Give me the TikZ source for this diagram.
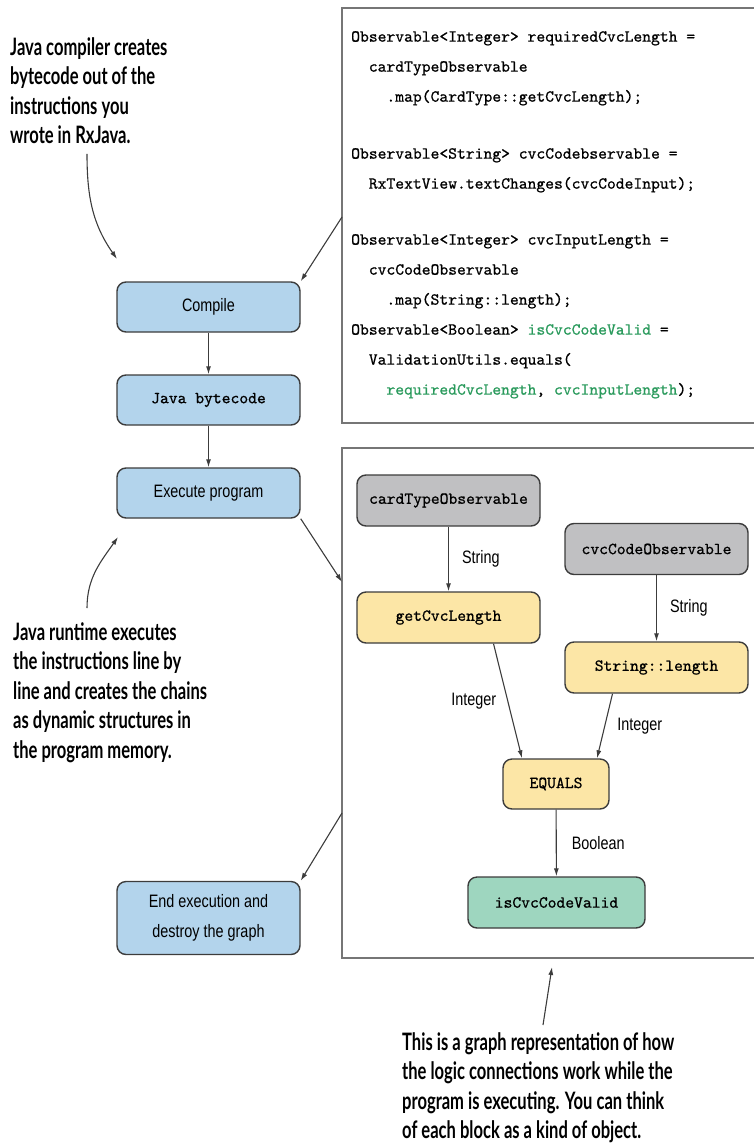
\documentclass[tikz,border=0pt]{standalone}
\usepackage{fontspec}
\setmainfont{Liberation Sans}
\newfontfamily\notefont{Lato}[FakeStretch=0.69]
\newfontfamily\labelfont{Liberation Sans}[FakeStretch=0.8]
\newfontfamily\codefont{lmmono10-regular.otf}[FakeBold=0.8]
\usetikzlibrary{arrows.meta, positioning}

\definecolor{boxblue}{HTML}{B3D4EC}
\definecolor{boxgray}{HTML}{C0C0C2}
\definecolor{boxyellow}{HTML}{FCE6A6}
\definecolor{boxgreen}{HTML}{9ED6BF}
\definecolor{codegreen}{HTML}{2A9A5C}
\definecolor{edgegray}{HTML}{3C3C3C}
\definecolor{framegray}{HTML}{767676}

\tikzset{
  stage/.style={draw=edgegray, line width=1.4pt, rounded corners=9pt, fill=boxblue,
    minimum width=183pt, minimum height=50pt, align=center,
    font=\labelfont\fontsize{18}{30}\selectfont},
  block/.style={draw=edgegray, line width=1.4pt, rounded corners=9pt,
    minimum width=183pt, minimum height=51pt,
    font=\codefont\fontsize{16.8}{20}\selectfont},
  flow/.style={draw=edgegray, line width=1.1pt, -{Latex[length=8pt,width=5pt]}},
  note/.style={anchor=north west, inner sep=0pt, align=left,
    font=\notefont\bfseries\fontsize{24}{29.5}\selectfont},
  tag/.style={inner sep=2pt, font=\labelfont\fontsize{18}{22}\selectfont},
  frame/.style={draw=framegray, line width=1.8pt}
}

\begin{document}
\begin{tikzpicture}[x=1pt, y=-1pt]
  \useasboundingbox (0,0) rectangle (754,1148);
  \clip (0,0) rectangle (754,1148);

  % frames for the source and the runtime graph
  \draw[frame] (770,8) -| (342,423) -- (770,423);
  \draw[frame] (770,448) -| (342,958) -- (770,958);
  \coordinate (codeedge) at (342,217);
  \coordinate (graphin) at (342,582);
  \coordinate (graphout) at (342,813);

  % RxJava source
  \node[anchor=north west, inner sep=0pt, align=left,
    font=\codefont\fontsize{16.8}{30}\selectfont] (source) at (351,31) {%
    Observable<Integer> requiredCvcLength =\\
    \phantom{xx}cardTypeObservable\\
    \phantom{xxxx}.map(CardType::getCvcLength);\\[27pt]
    Observable<String> cvcCodebservable =\\
    \phantom{xx}RxTextView.textChanges(cvcCodeInput);\\[26pt]
    Observable<Integer> cvcInputLength =\\
    \phantom{xx}cvcCodeObservable\\
    \phantom{xxxx}.map(String::length);\\
    Observable<Boolean> \textcolor{codegreen}{isCvcCodeValid} =\\
    \phantom{xx}ValidationUtils.equals(\\
    \phantom{xxxx}\textcolor{codegreen}{requiredCvcLength}, \textcolor{codegreen}{cvcInputLength});};

  % program life cycle
  \node[stage] (compile) at (208.5,307) {Compile};
  \node[stage, font=\codefont\fontsize{16.8}{20}\selectfont] (bytecode) at (208.5,400) {Java bytecode};
  \node[stage] (execute) at (208.5,493) {Execute program};
  \node[stage, minimum height=73pt] (finish) at (208.5,918) {End execution and\\destroy the graph};

  \draw[flow] (codeedge) -- (compile.north east);
  \draw[flow] (compile) -- (bytecode);
  \draw[flow] (bytecode) -- (execute);
  \draw[flow] (execute.south east) -- (graphin);
  \draw[flow] (graphout) -- (finish.north east);

  % the chains as objects in memory
  \node[block, fill=boxgray] (cardtype) at (448.5,500.5) {cardTypeObservable};
  \node[block, fill=boxgray] (cvccode) at (656.5,549) {cvcCodeObservable};
  \node[block, fill=boxyellow] (getlength) at (448.5,617.5) {getCvcLength};
  \node[block, fill=boxyellow] (strlength) at (656.5,667.5) {String::length};
  \node[block, fill=boxyellow, minimum width=106pt, minimum height=50pt] (equals) at (556,784) {EQUALS};
  \node[block, fill=boxgreen, minimum width=177pt] (valid) at (556.5,902.5) {isCvcCodeValid};

  \draw[flow] (cardtype) -- node[tag, right, xshift=11pt] {String} (getlength);
  \draw[flow] (cvccode) -- node[tag, right, xshift=11pt] {String} (strlength);
  \draw[flow] ([xshift=45pt]getlength.south) -- node[tag, left, xshift=-9pt] {Integer} ([xshift=-34pt]equals.north);
  \draw[flow] ([xshift=-44pt]strlength.south) -- node[tag, right, xshift=10pt] {Integer} ([xshift=41pt]equals.north);
  \draw[flow] (equals) -- node[tag, right, xshift=13pt] {Boolean} (valid);

  % callouts
  \node[note] (compilernote) at (10,37) {Java compiler creates\\bytecode out of the\\instructions you\\wrote in RxJava.};
  \node[note] (runtimenote) at (13,622) {Java runtime executes\\the instructions line by\\line and creates the chains\\as dynamic structures in\\the program memory.};
  \node[note] (graphnote) at (402,1032) {This is a graph representation of how\\the logic connections work while the\\program is executing. You can think\\of each block as a kind of object.};

  \coordinate (compilerpoint) at (117,259);
  \coordinate (runtimepoint) at (118,537);
  \coordinate (graphpoint) at (552,967);
  \draw[flow] ([xshift=77pt, yshift=-10pt]compilernote.south west) to[out=-90, in=125] (compilerpoint);
  \draw[flow] ([xshift=74pt, yshift=14pt]runtimenote.north west) to[out=90, in=-125] (runtimepoint);
  \draw[flow] ([xshift=141pt, yshift=7pt]graphnote.north west) -- (graphpoint);
\end{tikzpicture}
\end{document}
